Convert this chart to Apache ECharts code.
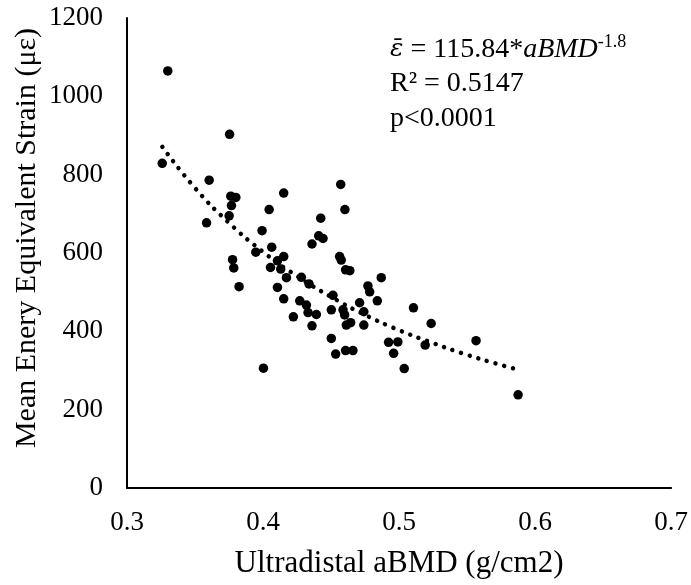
<!DOCTYPE html>
<html>
<head>
<meta charset="utf-8">
<script src="https://cdn.jsdelivr.net/npm/echarts@6/dist/echarts.min.js"></script>
<style>html,body{margin:0;padding:0;background:#fff}#c{width:691px;height:585px}</style>
</head>
<body>
<div id="c"></div>
<script>
// aBMD (g/cm2) values of each subject
var bmd = [0.330,0.3754,0.3259,0.3604,0.3763,0.380,0.3768,0.3751,0.4152,0.4045,
  0.3585,0.3993,0.4064,0.3947,0.4152,0.4106,0.3776,0.3785,0.4055,0.413,
  0.4172,0.4282,0.3824,0.4106,0.4152,0.4223,0.4003,0.4571,0.4602,0.4424,
  0.4409,0.4441,0.436,0.4563,0.4575,0.4607,0.4638,0.4338,0.4869,0.4771,
  0.4784,0.4514,0.427,0.4319,0.484,0.471,0.4502,0.4588,0.4741,0.4331,
  0.4392,0.460,0.5106,0.5236,0.436,0.4612,0.4644,0.4741,0.5566,0.4923,
  0.4991,0.5192,0.496,0.5038,0.5875,0.4502,0.4534,0.4607,0.4661];
// mean energy equivalent strain (µε)
var strain = [1065,903,829,786,745,742,721,695,753,711,
  677,657,615,602,591,580,583,562,563,559,
  537,538,514,512,483,437,306,775,711,689,
  644,637,623,591,582,557,555,521,537,516,
  501,492,478,467,478,473,455,455,450,448,
  443,442,460,420,414,416,422,416,376,372,
  373,365,344,305,238,382,342,351,351];
// dotted power trend line
var trendX = [0.326,0.35,0.375,0.40,0.425,0.45,0.475,0.50,0.525,0.55,0.575,0.59];
var trendY = [871,766,677,603,541,488,442,403,370,340,314,300];
var xTicks = ['0.3','0.4','0.5','0.6','0.7'];
var yTicks = ['0','200','400','600','800','1000','1200'];

var pts = bmd.map(function(x,i){return [x,strain[i]];});
var tr = trendX.map(function(x,i){return [x,trendY[i]];});
var F = '"Liberation Serif", "Times New Roman", serif';

var chart = echarts.init(document.getElementById('c'));
chart.setOption({
  animation:false,
  backgroundColor:'#fff',
  grid:{left:127,right:19,top:18,bottom:97},
  xAxis:{type:'value',min:0.3,max:0.7,interval:0.1,
    name:'Ultradistal aBMD (g/cm2)',nameLocation:'middle',nameGap:60,
    nameTextStyle:{fontFamily:F,fontSize:31,color:'#000'},
    axisLine:{show:true,lineStyle:{color:'#000',width:2}},
    axisTick:{show:false},splitLine:{show:false},
    axisLabel:{fontFamily:F,fontSize:27,color:'#000',margin:21,
      formatter:function(v){var s=xTicks.filter(function(t){return Math.abs(parseFloat(t)-v)<1e-6;});return s.length?s[0]:'';}}},
  yAxis:{type:'value',min:0,max:1200,interval:200,
    axisLine:{show:true,lineStyle:{color:'#000',width:2}},
    axisTick:{show:false},splitLine:{show:false},
    axisLabel:{fontFamily:F,fontSize:27,color:'#000',margin:24,
      formatter:function(v){var s=yTicks.filter(function(t){return Math.abs(parseFloat(t)-v)<1e-6;});return s.length?s[0]:'';}}},
  series:[
    {type:'line',data:tr,smooth:true,symbol:'none',z:1,
      lineStyle:{color:'#000',width:4.5,type:[0.01,9],cap:'round'}},
    {type:'scatter',data:pts,symbol:'circle',symbolSize:9.5,z:2,
      itemStyle:{color:'#000',opacity:1}}
  ],
  graphic:[
    {type:'text',x:27,y:238,rotation:Math.PI/2,style:{
      text:'Mean Enery Equivalent Strain (με)',fontFamily:F,fontSize:30,fill:'#000',
      align:'center',verticalAlign:'middle'}},
    {type:'text',left:390,top:33,style:{
      text:'{e|ε̄}{n| = 115.84*}{i|aBMD}{s|-1.8}',
      rich:{
        e:{fontFamily:'"DejaVu Serif", serif',fontSize:25,fontStyle:'italic',color:'#000'},
        n:{fontFamily:F,fontSize:28,color:'#000'},
        i:{fontFamily:F,fontSize:28,fontStyle:'italic',color:'#000'},
        s:{fontFamily:F,fontSize:18,color:'#000',padding:[0,0,15,0]}
      }}},
    {type:'text',left:390,top:70,style:{text:'R² = 0.5147',fontFamily:F,fontSize:28,fill:'#000'}},
    {type:'text',left:390,top:105,style:{text:'p<0.0001',fontFamily:F,fontSize:28,fill:'#000'}}
  ]
});
</script>
</body>
</html>
